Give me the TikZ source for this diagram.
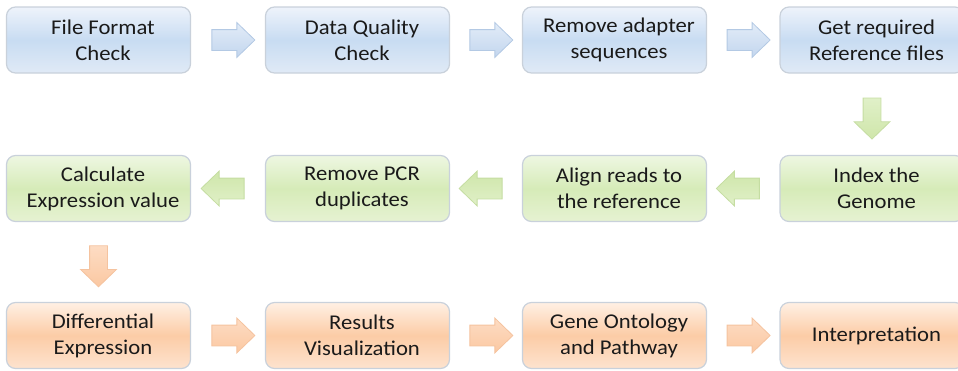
\documentclass[tikz,border=0pt]{standalone}
\usepackage{fontspec}
\setmainfont[FakeStretch=1.08]{Carlito}
\usetikzlibrary{shapes.arrows,calc}
\newcommand{\pl}{\hspace*{9pt}}
\definecolor{txt}{HTML}{1A1A1A}
\definecolor{bb}{HTML}{C9D1DB}
\definecolor{bA}{HTML}{EEF3FB}
\definecolor{bB}{HTML}{C8DCF2}
\definecolor{bC}{HTML}{E0EAF6}
\definecolor{gA}{HTML}{EEF7E2}
\definecolor{gB}{HTML}{D6EBB8}
\definecolor{gC}{HTML}{E6F2D2}
\definecolor{oA}{HTML}{FFF0E4}
\definecolor{oB}{HTML}{FCCCA6}
\definecolor{oC}{HTML}{FDE3CF}
\definecolor{abA}{HTML}{E2ECF8}
\definecolor{abB}{HTML}{C3D6EE}
\definecolor{abD}{HTML}{B3C9E4}
\definecolor{agA}{HTML}{E0F0C8}
\definecolor{agB}{HTML}{CFE6AA}
\definecolor{agD}{HTML}{C5DDA2}
\definecolor{aoA}{HTML}{FDDCC3}
\definecolor{aoB}{HTML}{FBC8A2}
\definecolor{aoD}{HTML}{F5C39F}
\begin{document}
\begin{tikzpicture}[x=1pt,y=-1pt,
  box/.style={draw=bb, line width=1.2pt, rounded corners=9pt,
    minimum width=184pt, minimum height=66pt, align=center,
    font=\fontsize{21}{26}\selectfont, text=txt, inner sep=0pt},
  bluebox/.style={box, top color=bA, bottom color=bC, middle color=bB},
  greenbox/.style={box, top color=gA, bottom color=gC, middle color=gB},
  orangebox/.style={box, top color=oA, bottom color=oC, middle color=oB},
  arr/.style={single arrow, minimum height=43pt, text height=10pt, text depth=10pt,
    single arrow head extend=7pt, single arrow tip angle=88,
    inner sep=0pt, line width=0.8pt},
  bluearr/.style={arr, draw=abD, top color=abA, bottom color=abB},
  greenarr/.style={arr, draw=agD, top color=agA, bottom color=agB},
  greenlarr/.style={arr, draw=agD, top color=agB, bottom color=agA, rotate=180},
  orangearr/.style={arr, draw=aoD, top color=aoA, bottom color=aoB},
  varr/.style={minimum height=41pt, text height=8.5pt, text depth=8.5pt,
    single arrow head extend=9pt, single arrow tip angle=92, rotate=-90}
]
\useasboundingbox (0,0) rectangle (958,370);
% row 1
\node[bluebox] (a1) at (98.5,40) {\pl File Format\\\pl Check};
\node[bluebox] (a2) at (357.5,40) {\pl Data Quality\\\pl Check};
\node[bluebox] (a3) at (614.5,40) {\pl Remove adapter\\\pl sequences};
\node[bluebox] (a4) at (872,40) {\pl Get required\\\pl Reference files};
% row 2
\node[greenbox] (b1) at (98.5,188.5) {\pl Calculate\\\pl Expression value};
\node[greenbox] (b2) at (357.5,188.5) {\pl Remove PCR\\\pl duplicates};
\node[greenbox] (b3) at (614.5,188.5) {\pl Align reads to\\\pl the reference};
\node[greenbox] (b4) at (872,188.5) {\pl Index the\\\pl Genome};
% row 3
\node[orangebox] (c1) at (98.5,335.5) {\pl Differential\\\pl Expression};
\node[orangebox] (c2) at (357.5,335.5) {\pl Results\\\pl Visualization};
\node[orangebox] (c3) at (614.5,335.5) {\pl Gene Ontology\\\pl and Pathway};
\node[orangebox] (c4) at (872,335.5) {\pl Interpretation};
% arrows row 1
\node[bluearr] (r1) at ($(a1.east)!0.5!(a2.west)$) {};
\node[bluearr] (r2) at ($(a2.east)!0.5!(a3.west)$) {};
\node[bluearr] (r3) at ($(a3.east)!0.5!(a4.west)$) {};
% down arrow
\node[greenarr, varr] (d1) at ($(a4.south)!0.5!(b4.north)$) {};
% arrows row 2
\node[greenlarr] (l1) at ($(b4.west)!0.5!(b3.east)$) {};
\node[greenlarr] (l2) at ($(b3.west)!0.5!(b2.east)$) {};
\node[greenlarr] (l3) at ($(b2.west)!0.5!(b1.east)$) {};
% down arrow
\node[orangearr, varr] (d2) at ($(b1.south)!0.5!(c1.north)$) {};
% arrows row 3
\node[orangearr] (s1) at ($(c1.east)!0.5!(c2.west)$) {};
\node[orangearr] (s2) at ($(c2.east)!0.5!(c3.west)$) {};
\node[orangearr] (s3) at ($(c3.east)!0.5!(c4.west)$) {};
\end{tikzpicture}
\end{document}
